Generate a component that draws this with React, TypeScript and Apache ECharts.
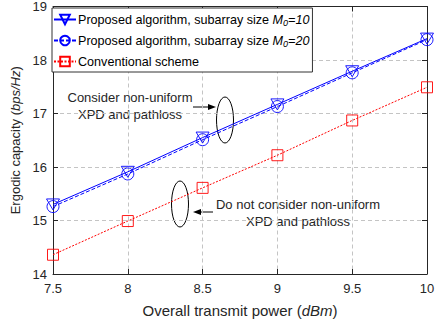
import React, { useEffect, useRef } from "react";
import * as echarts from "echarts";

const powerDbm = [7.5, 8, 8.5, 9, 9.5, 10];
const proposedM10 = [15.3, 15.91, 16.55, 17.17, 17.79, 18.4];
const proposedM20 = [15.26, 15.87, 16.51, 17.13, 17.76, 18.38];
const conventional = [14.36, 14.99, 15.61, 16.22, 16.87, 17.49];
const seriesNames = [
  "Proposed algorithm, subarray size M0=10",
  "Proposed algorithm, subarray size M0=20",
  "Conventional scheme",
];
const legendLabels: Record<string, string> = {
  [seriesNames[0]]: "{n|Proposed algorithm, subarray size }{i|M}{s|0}{i|=10}",
  [seriesNames[1]]: "{n|Proposed algorithm, subarray size }{i|M}{s|0}{i|=20}",
  [seriesNames[2]]: "{n|Conventional scheme}",
};

const FONT = "'Liberation Sans', Arial, sans-serif";
const INK = "#262626";
const BLUE = "#0000ff";
const RED = "#ff0000";

const pairs = (ys: number[]) => powerDbm.map((x, i) => [x, ys[i]]);

export default function App() {
  const ref = useRef<HTMLDivElement>(null);

  useEffect(() => {
    if (!ref.current) return;
    const chart = echarts.init(ref.current, null, { renderer: "svg" });

    const gridLine = { show: true, lineStyle: { color: "#c4c4c4", type: [4, 3], width: 1 } };
    const axisLine = { show: true, lineStyle: { color: INK, width: 1 } };
    const tick = { show: true, inside: true, length: 5, lineStyle: { color: INK } };

    const annotationText = (x: number, y: number, lines: string[]) => ({
      type: "text",
      x,
      y,
      style: {
        text: lines.join("\n"),
        font: `13px ${FONT}`,
        fill: INK,
        align: "center",
        verticalAlign: "middle",
        lineHeight: 17,
      },
    });
    const arrow = (x1: number, x2: number, y: number) => {
      const dir = Math.sign(x2 - x1);
      return [
        { type: "line", shape: { x1, y1: y, x2: x2 - dir * 4, y2: y }, style: { stroke: "#000", lineWidth: 1 } },
        {
          type: "polygon",
          shape: { points: [[x2, y], [x2 - dir * 8, y - 3], [x2 - dir * 8, y + 3]] },
          style: { fill: "#000" },
        },
      ];
    };
    const ellipse = (cx: number, cy: number) => ({
      type: "ellipse",
      shape: { cx, cy, rx: 8.5, ry: 23 },
      style: { fill: "none", stroke: "#000", lineWidth: 1 },
    });

    const legendFont = 12.6;

    chart.setOption({
      animation: false,
      backgroundColor: "#fff",
      textStyle: { fontFamily: FONT },
      grid: { left: 53, right: 15, top: 6, bottom: 51 },
      xAxis: [
        {
          type: "value",
          min: 7.5,
          max: 10,
          interval: 0.5,
          name: "{n|Overall transmit power (}{i|dBm}{n|)}",
          nameLocation: "middle",
          nameGap: 29,
          nameTextStyle: {
            rich: {
              n: { fontSize: 15, fontFamily: FONT, color: INK },
              i: { fontSize: 15, fontFamily: FONT, color: INK, fontStyle: "italic" },
            },
          },
          axisLine,
          axisTick: tick,
          splitLine: gridLine,
          axisLabel: { color: INK, fontSize: 13, fontFamily: FONT, margin: 8 },
        },
        {
          type: "value",
          position: "top",
          min: 7.5,
          max: 10,
          interval: 0.5,
          axisLine,
          axisTick: tick,
          splitLine: { show: false },
          axisLabel: { show: false },
        },
      ],
      yAxis: [
        {
          type: "value",
          min: 14,
          max: 19,
          interval: 1,
          name: "{n|Ergodic capacity (}{i|bps/Hz}{n|)}",
          nameLocation: "middle",
          nameGap: 28,
          nameTextStyle: {
            rich: {
              n: { fontSize: 13, fontFamily: FONT, color: INK },
              i: { fontSize: 13, fontFamily: FONT, color: INK, fontStyle: "italic" },
            },
          },
          axisLine,
          axisTick: tick,
          splitLine: gridLine,
          axisLabel: { color: INK, fontSize: 13, fontFamily: FONT, margin: 6 },
        },
        {
          type: "value",
          position: "right",
          min: 14,
          max: 19,
          interval: 1,
          axisLine,
          axisTick: tick,
          splitLine: { show: false },
          axisLabel: { show: false },
        },
      ],
      legend: {
        left: 52,
        top: 8,
        orient: "vertical",
        itemWidth: 22,
        itemHeight: 12,
        itemGap: 6,
        padding: [4, 3, 3, 1],
        backgroundColor: "#fff",
        borderColor: "#333",
        borderWidth: 1,
        borderRadius: 0,
        data: seriesNames,
        formatter: (name: string) => legendLabels[name],
        textStyle: {
          color: "#000",
          fontSize: legendFont,
          fontFamily: FONT,
          lineHeight: 15,
          padding: [0, 0, 0, -3],
          rich: {
            n: { fontSize: legendFont, fontFamily: FONT, color: "#000", lineHeight: 15 },
            i: { fontSize: legendFont, fontFamily: FONT, color: "#000", fontStyle: "italic", lineHeight: 15 },
            s: {
              fontSize: 9,
              fontFamily: FONT,
              color: "#000",
              fontStyle: "italic",
              lineHeight: 15,
              verticalAlign: "bottom",
            },
          },
        },
      },
      series: [
        {
          name: seriesNames[0],
          type: "line",
          data: pairs(proposedM10),
          symbol: "triangle",
          symbolRotate: 180,
          symbolSize: [13, 11],
          showAllSymbol: true,
          lineStyle: { color: BLUE, width: 1, type: "solid" },
          itemStyle: { color: "transparent", borderColor: BLUE, borderWidth: 0.9 },
          z: 3,
        },
        {
          name: seriesNames[1],
          type: "line",
          data: pairs(proposedM20),
          symbol: "circle",
          symbolSize: 12,
          showAllSymbol: true,
          lineStyle: { color: BLUE, width: 1, type: [4, 2] },
          itemStyle: { color: "transparent", borderColor: BLUE, borderWidth: 0.9 },
          z: 3,
        },
        {
          name: seriesNames[2],
          type: "line",
          data: pairs(conventional),
          symbol: "rect",
          symbolSize: 11,
          showAllSymbol: true,
          lineStyle: { color: RED, width: 1, type: [2, 1.5] },
          itemStyle: { color: "transparent", borderColor: RED, borderWidth: 0.9 },
          z: 3,
        },
      ],
      graphic: [
        annotationText(130, 106, ["Consider non-uniform", "XPD and pathloss"]),
        ...arrow(193, 216, 107),
        ellipse(225, 120),
        ellipse(180, 204),
        ...arrow(213, 193, 212),
        annotationText(298, 213, ["Do not consider non-uniform", "XPD and pathloss"]),
      ],
    });

    return () => chart.dispose();
  }, []);

  return (
    <div
      ref={ref}
      style={{ position: "fixed", left: 0, top: 0, width: 442, height: 325, background: "#fff" }}
    />
  );
}
